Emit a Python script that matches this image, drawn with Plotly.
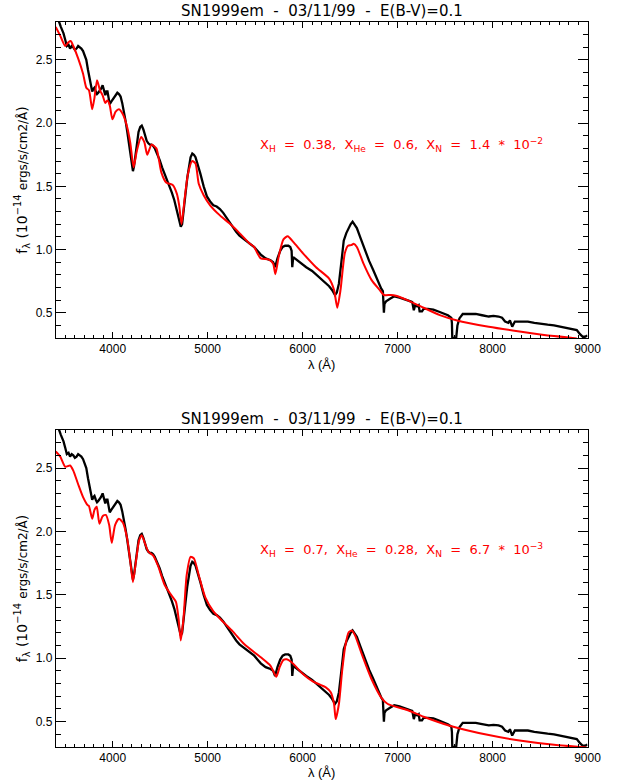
import plotly.graph_objects as go

# Observed spectrum of SN1999em (03/11/99), flux in 1e-14 erg/s/cm2/A
obs_wave = [3400, 3431, 3455, 3482, 3500, 3517, 3535, 3551, 3568, 3585, 3602, 3619, 3636, 3654,
            3670, 3688, 3705, 3722, 3740, 3757, 3772, 3784, 3796, 3808, 3822, 3835, 3848, 3860,
            3876, 3894, 3908, 3922, 3933, 3945, 3957, 3969, 3985, 4004, 4027, 4049, 4066, 4083,
            4100, 4117, 4135, 4152, 4169, 4186, 4200, 4213, 4225, 4237, 4255, 4272, 4290, 4306,
            4323, 4340, 4358, 4375, 4392, 4409, 4426, 4443, 4468, 4494, 4520, 4546, 4571, 4597,
            4623, 4649, 4666, 4683, 4700, 4717, 4731, 4745, 4765, 4786, 4803, 4820, 4838, 4855,
            4872, 4897, 4923, 4958, 4992, 5026, 5060, 5095, 5129, 5164, 5198, 5232, 5266, 5300,
            5335, 5386, 5438, 5490, 5524, 5559, 5610, 5662, 5690, 5710, 5735, 5764, 5790, 5816,
            5850, 5870, 5884, 5891, 5901, 5950, 6000, 6038, 6100, 6176, 6230, 6279, 6310, 6341,
            6360, 6382, 6408, 6433, 6460, 6485, 6505, 6526, 6548, 6571, 6610, 6656, 6700, 6742,
            6785, 6828, 6845, 6852, 6856, 6862, 6879, 6920, 6965, 7020, 7068, 7110, 7137, 7154,
            7164, 7171, 7185, 7205, 7222, 7232, 7257, 7274, 7320, 7377, 7430, 7480, 7530, 7566,
            7572, 7576, 7600, 7617, 7630, 7651, 7686, 7750, 7823, 7890, 7960, 8010, 8063, 8100,
            8132, 8166, 8183, 8207, 8235, 8300, 8372, 8440, 8509, 8580, 8647, 8720, 8784, 8840,
            8887, 8921, 8950, 8973, 9000]
obs_flux = [2.81, 2.81, 2.76, 2.71, 2.66, 2.61, 2.62, 2.59, 2.61, 2.60, 2.58, 2.59, 2.61, 2.60,
            2.59, 2.57, 2.53, 2.50, 2.42, 2.35, 2.29, 2.25, 2.27, 2.28, 2.25, 2.23, 2.24, 2.25,
            2.27, 2.30, 2.26, 2.22, 2.25, 2.25, 2.20, 2.15, 2.17, 2.19, 2.22, 2.24, 2.23, 2.21,
            2.16, 2.10, 2.02, 1.94, 1.85, 1.76, 1.68, 1.62, 1.66, 1.73, 1.84, 1.93, 1.97, 1.98,
            1.95, 1.90, 1.86, 1.84, 1.83, 1.83, 1.82, 1.80, 1.76, 1.71, 1.65, 1.60, 1.55, 1.51,
            1.45, 1.39, 1.34, 1.28, 1.23, 1.18, 1.20, 1.28, 1.43, 1.57, 1.67, 1.73, 1.76, 1.75,
            1.73, 1.67, 1.60, 1.50, 1.42, 1.38, 1.35, 1.34, 1.32, 1.29, 1.25, 1.21, 1.17, 1.14,
            1.11, 1.08, 1.05, 1.02, 0.99, 0.96, 0.93, 0.915, 0.90, 0.86, 0.93, 0.99, 1.02, 1.03,
            1.03, 1.02, 0.99, 0.86, 0.94, 0.91, 0.88, 0.86, 0.83, 0.78, 0.74, 0.71, 0.68, 0.64,
            0.66, 0.73, 0.90, 1.07, 1.13, 1.17, 1.20, 1.22, 1.20, 1.17, 1.09, 0.99, 0.91, 0.84,
            0.76, 0.69, 0.67, 0.60, 0.50, 0.57, 0.59, 0.61, 0.63, 0.62, 0.61, 0.60, 0.59, 0.585,
            0.52, 0.52, 0.56, 0.55, 0.56, 0.51, 0.51, 0.53, 0.53, 0.525, 0.51, 0.495, 0.48, 0.46,
            0.42, 0.30, 0.30, 0.30, 0.40, 0.455, 0.49, 0.49, 0.49, 0.48, 0.47, 0.475, 0.47, 0.46,
            0.43, 0.42, 0.44, 0.39, 0.43, 0.43, 0.43, 0.42, 0.41, 0.405, 0.40, 0.39, 0.376, 0.37,
            0.363, 0.33, 0.31, 0.31, 0.32]

# Synthetic spectrum, X_H = 0.38, X_He = 0.6, X_N = 1.4e-2
mod1_wave = [3400, 3448, 3500, 3534, 3558, 3585, 3637, 3688, 3722, 3750, 3784, 3808, 3835, 3866,
             3894, 3922, 3945, 3969, 3997, 4031, 4066, 4107, 4152, 4186, 4220, 4254, 4299, 4333,
             4364, 4409, 4460, 4512, 4563, 4632, 4676, 4700, 4725, 4759, 4793, 4838, 4872, 4906,
             4958, 5026, 5129, 5232, 5335, 5438, 5490, 5524, 5559, 5645, 5689, 5713, 5747, 5798,
             5843, 5901, 6004, 6141, 6279, 6331, 6365, 6399, 6444, 6478, 6512, 6537, 6571, 6640,
             6725, 6811, 6856, 6931, 6982, 7102, 7239, 7445, 7617, 7960, 8303, 8647, 8887]
mod1_flux = [2.76, 2.69, 2.61, 2.64, 2.65, 2.61, 2.51, 2.39, 2.28, 2.26, 2.11, 2.20, 2.34, 2.26,
             2.22, 2.16, 2.18, 2.14, 2.03, 2.09, 2.11, 2.07, 1.97, 1.84, 1.65, 1.78, 1.89, 1.85,
             1.75, 1.83, 1.80, 1.61, 1.53, 1.51, 1.44, 1.35, 1.20, 1.41, 1.60, 1.70, 1.68, 1.52,
             1.43, 1.35, 1.27, 1.205, 1.13, 1.05, 1.02, 0.97, 0.93, 0.92, 0.89, 0.805, 0.94, 1.08,
             1.105, 1.06, 0.97, 0.86, 0.77, 0.68, 0.54, 0.68, 0.97, 1.03, 1.035, 1.045, 1.02, 0.89,
             0.76, 0.68, 0.64, 0.64, 0.634, 0.60, 0.552, 0.481, 0.441, 0.389, 0.35, 0.315, 0.297]

# Synthetic spectrum, X_H = 0.7, X_He = 0.28, X_N = 6.7e-3
mod2_wave = [3400, 3448, 3500, 3551, 3585, 3637, 3688, 3733, 3750, 3784, 3808, 3832, 3860, 3894,
             3928, 3963, 3990, 4025, 4066, 4107, 4152, 4186, 4213, 4244, 4278, 4306, 4340, 4375,
             4426, 4477, 4546, 4615, 4666, 4694, 4717, 4745, 4779, 4820, 4855, 4906, 4975, 5060,
             5163, 5266, 5387, 5559, 5662, 5723, 5757, 5798, 5833, 5884, 6004, 6107, 6244, 6296,
             6331, 6348, 6382, 6416, 6450, 6485, 6519, 6553, 6622, 6725, 6828, 6897, 7102, 7274,
             7549, 7960, 8303, 8647, 8990]
mod2_flux = [2.63, 2.59, 2.51, 2.52, 2.48, 2.37, 2.27, 2.21, 2.20, 2.10, 2.17, 2.195, 2.06, 2.12,
             2.13, 2.05, 1.91, 2.05, 2.10, 2.07, 1.945, 1.76, 1.60, 1.76, 1.93, 1.97, 1.905, 1.84,
             1.81, 1.73, 1.58, 1.50, 1.445, 1.31, 1.14, 1.31, 1.655, 1.80, 1.787, 1.655, 1.48, 1.37,
             1.287, 1.21, 1.11, 1.007, 0.94, 0.854, 0.928, 0.987, 0.992, 0.968, 0.876, 0.817, 0.77,
             0.731, 0.639, 0.52, 0.639, 0.90, 1.10, 1.205, 1.218, 1.178, 1.034, 0.836, 0.69, 0.639,
             0.592, 0.539, 0.468, 0.394, 0.349, 0.317, 0.296]

x_ticks = [4000, 5000, 6000, 7000, 8000, 9000]
y_ticks = [0.5, 1.0, 1.5, 2.0, 2.5]
title_text = "SN1999em  -  03/11/99  -  E(B-V)=0.1"
ylabel = ("f<sub>λ</sub> (10<sup>−14</sup> "
          "<span style='font-size:12px'>ergs/s/cm2/Å</span>)")
xlabel = "λ (Å)"
labels = ["X<sub>H</sub>  =  0.38,  X<sub>He</sub>  =  0.6,  X<sub>N</sub>  =  1.4  *  10<sup>−2</sup>",
          "X<sub>H</sub>  =  0.7,  X<sub>He</sub>  =  0.28,  X<sub>N</sub>  =  6.7  *  10<sup>−3</sup>"]

FONT = "Liberation Sans"
WIDE = "DejaVu Sans"
W, H = 624, 780
# panel boxes in pixels: (left, right, top, bottom)
panels = [(57, 601, 22, 338), (57, 601, 430, 747)]
models = [(mod1_wave, mod1_flux), (mod2_wave, mod2_flux)]

fig = go.Figure()
layout = dict(width=W, height=H, margin=dict(l=0, r=0, t=0, b=0),
              paper_bgcolor="white", plot_bgcolor="white", showlegend=False,
              font=dict(family=FONT, size=12, color="black"), annotations=[])

for i, (l, r, t, b) in enumerate(panels):
    sx = "" if i == 0 else str(i + 1)
    xa, ya = "x" + sx, "y" + sx
    fig.add_trace(go.Scatter(x=obs_wave, y=obs_flux, mode="lines", xaxis=xa, yaxis=ya,
                             line=dict(color="black", width=2.3)))
    fig.add_trace(go.Scatter(x=models[i][0], y=models[i][1], mode="lines", xaxis=xa, yaxis=ya,
                             line=dict(color="#ff0000", width=2, shape="spline", smoothing=0.6)))
    xdom = [l / W, r / W]
    ydom = [1 - b / H, 1 - t / H]
    common = dict(showline=True, linecolor="black", linewidth=1, mirror="ticks",
                  ticks="inside", tickcolor="black", showgrid=False, zeroline=False)
    layout["xaxis" + sx] = dict(domain=xdom, anchor=ya, range=[3400, 9000], tickvals=x_ticks,
                                ticklen=6, minor=dict(ticks="inside", dtick=100, ticklen=3,
                                                      tickcolor="black", showgrid=False),
                                title=dict(text=xlabel, font=dict(size=13), standoff=4),
                                **common)
    layout["yaxis" + sx] = dict(domain=ydom, anchor=xa, range=[0.3, 2.8], tickvals=y_ticks,
                                tickformat=".1f", ticklen=10,
                                minor=dict(ticks="inside", dtick=0.1, ticklen=5,
                                           tickcolor="black", showgrid=False),
                                title=dict(text=ylabel, font=dict(size=14, family=WIDE),
                                           standoff=4),
                                **common)
    layout["annotations"].append(dict(text=title_text, xref="paper", yref="paper",
                                      x=(l + r) / 2 / W, y=1 - (t - 11) / H, xanchor="center",
                                      yanchor="middle", showarrow=False,
                                      font=dict(size=15, family=WIDE)))
    layout["annotations"].append(dict(text=labels[i], xref=xa, yref=ya, x=5530,
                                      y=1.83 if i == 0 else 1.85, xanchor="left",
                                      yanchor="middle", showarrow=False,
                                      font=dict(size=13, color="#ff0000", family=WIDE)))

fig.update_layout(**layout)
fig.write_html("out.html")
